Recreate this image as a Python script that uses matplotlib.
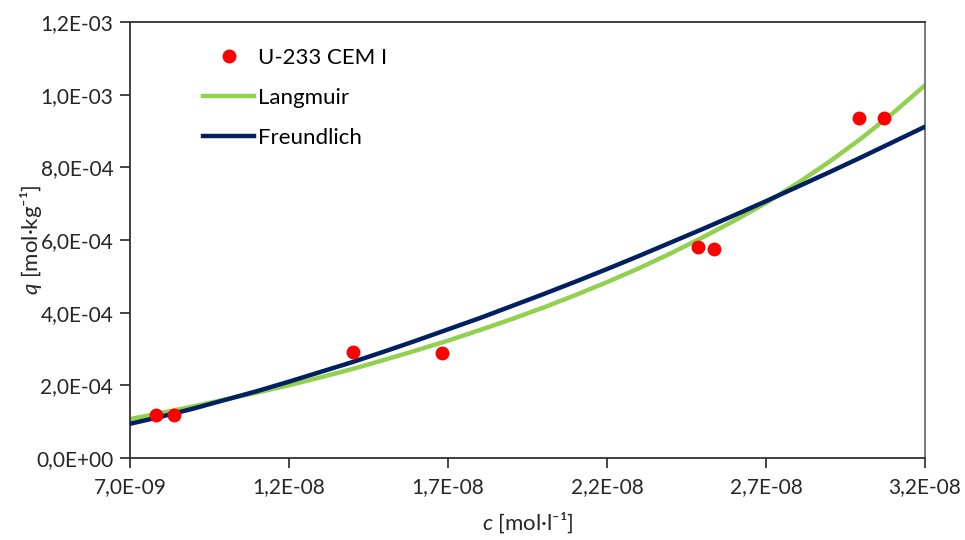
import numpy as np
import matplotlib.pyplot as plt
from matplotlib.ticker import FuncFormatter, FixedLocator

plt.rcParams['font.family'] = ['Lato', 'DejaVu Sans']
plt.rcParams['mathtext.fontset'] = 'custom'
plt.rcParams['mathtext.it'] = 'Lato:italic'
plt.rcParams['mathtext.rm'] = 'Lato'

# ---------- measured sorption data ----------
c_meas = np.array([7.81, 8.39, 14.02, 16.80, 24.87, 25.36, 29.93, 30.70]) * 1e-9
q_meas = np.array([1.18, 1.18, 2.91, 2.88, 5.82, 5.75, 9.35, 9.35]) * 1e-4

# ---------- isotherm fit curves ----------
c_fit = np.array([7, 8, 9, 10, 11, 12, 13, 14, 15, 16, 17, 18, 19, 20,
                  21, 22, 23, 24, 25, 26, 27, 28, 29, 30, 31, 32]) * 1e-9
q_langmuir = np.array([1.07, 1.24, 1.42, 1.61, 1.80, 2.00, 2.22, 2.45, 2.70,
                       2.96, 3.23, 3.52, 3.82, 4.14, 4.48, 4.84, 5.22, 5.63,
                       6.07, 6.53, 7.02, 7.57, 8.16, 8.80, 9.50, 10.26]) * 1e-4
q_freundlich = np.array([0.94, 1.14, 1.36, 1.60, 1.84, 2.10, 2.37, 2.64, 2.93,
                         3.23, 3.54, 3.85, 4.18, 4.51, 4.85, 5.20, 5.56, 5.93,
                         6.30, 6.68, 7.07, 7.47, 7.87, 8.28, 8.70, 9.12]) * 1e-4

# axis ticks
x_ticks = np.array([7, 12, 17, 22, 27, 32]) * 1e-9
y_ticks = np.array([0, 2, 4, 6, 8, 10, 12]) * 1e-4


def sci_comma(v, pos):
    return f"{v:.1E}".replace('.', ',')


# ---------- Plot ----------
fig = plt.figure(figsize=(9.65, 5.4), dpi=100)
ax = fig.add_axes([0.1347, 0.152, 0.8238, 0.807])

ax.plot(c_fit, q_langmuir, color='#92D050', lw=3.2, label='Langmuir', zorder=2)
ax.plot(c_fit, q_freundlich, color='#002060', lw=3.2, label='Freundlich', zorder=3)
ax.plot(c_meas, q_meas, 'o', color='#FF0000', ms=10, mec='none',
        label='U-233 CEM I', zorder=4)

ax.set_xlim(7e-9, 3.2e-8)
ax.set_ylim(0, 1.2e-3)
ax.xaxis.set_major_locator(FixedLocator(x_ticks))
ax.yaxis.set_major_locator(FixedLocator(y_ticks))
ax.xaxis.set_major_formatter(FuncFormatter(sci_comma))
ax.yaxis.set_major_formatter(FuncFormatter(sci_comma))

ax.tick_params(axis='both', labelsize=15, colors='#262626', direction='out',
               length=7, width=1.2)
ax.tick_params(axis='x', pad=7)
ax.tick_params(axis='y', pad=5)
for side in ['left', 'bottom', 'top']:
    ax.spines[side].set_color('#333333')
    ax.spines[side].set_linewidth(1.3)
ax.spines['right'].set_color('#707070')
ax.spines['right'].set_linewidth(1.3)

ax.set_xlabel('$c$ [mol·l⁻¹]', fontsize=16, color='#262626', labelpad=9)
ax.set_ylabel('$q$ [mol·kg⁻¹]', fontsize=16, color='#262626', labelpad=-6)

handles, labels = ax.get_legend_handles_labels()
order = [2, 0, 1]
ax.legend([handles[i] for i in order], [labels[i] for i in order],
          loc='upper left', bbox_to_anchor=(0.081, 0.962), frameon=False,
          fontsize=16, handlelength=2.3, handletextpad=0.15,
          labelspacing=0.9, borderaxespad=0)

fig.savefig('out.png', dpi=100)
